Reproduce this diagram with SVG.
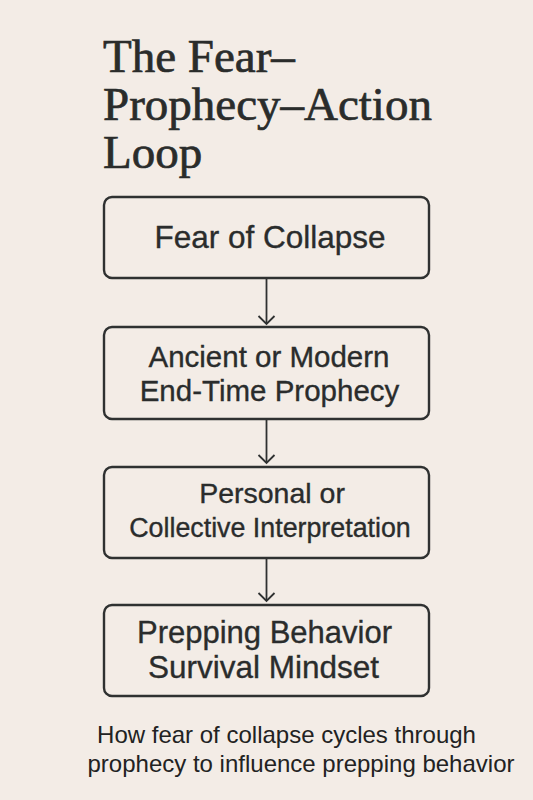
<svg xmlns="http://www.w3.org/2000/svg" width="533" height="800" viewBox="0 0 533 800">
  <defs>
    <style>
      .title { font-family: "Liberation Serif", "Times New Roman", serif; font-size: 47px; fill: #2a2c2b; stroke: #2a2c2b; stroke-width: 0.7; }
      .box { fill: #f3ece6; stroke: #2f3131; stroke-width: 2.4; }
      .lbl { font-family: "Liberation Sans", Arial, sans-serif; fill: #2a2c2c; stroke: #2a2c2c; stroke-width: 0.35; text-anchor: middle; }
      .cap { font-family: "Liberation Sans", Arial, sans-serif; font-size: 24px; fill: #222; text-anchor: middle; }
      .conn { stroke: #2f3131; stroke-width: 1.8; fill: none; }
    </style>
    <marker id="chev" markerWidth="12" markerHeight="20" refX="9" refY="9" orient="auto" markerUnits="userSpaceOnUse" viewBox="0 0 12 20">
      <path d="M1,1 L9,9 L1,17" fill="none" stroke="#2f3131" stroke-width="1.8"/>
    </marker>
  </defs>
  <rect width="533" height="800" fill="#f3ece6"/>

  <g id="title">
    <text class="title" x="103" y="72">The Fear–</text>
    <text class="title" x="103" y="120">Prophecy–Action</text>
    <text class="title" x="103" y="168">Loop</text>
  </g>

  <g id="connectors">
    <line class="conn" x1="266.5" y1="279" x2="266.5" y2="324" marker-end="url(#chev)"/>
    <line class="conn" x1="266.5" y1="420" x2="266.5" y2="463" marker-end="url(#chev)"/>
    <line class="conn" x1="266.5" y1="558" x2="266.5" y2="601" marker-end="url(#chev)"/>
  </g>

  <g id="node1">
    <rect class="box" x="104" y="197" width="325" height="81" rx="8"/>
    <text class="lbl" x="270" y="248" font-size="31.5">Fear of Collapse</text>
  </g>

  <g id="node2">
    <rect class="box" x="104" y="327" width="325" height="92" rx="8"/>
    <text class="lbl" x="269" y="367" font-size="29.5">Ancient or Modern</text>
    <text class="lbl" x="269.5" y="401" font-size="29.5">End-Time Prophecy</text>
  </g>

  <g id="node3">
    <rect class="box" x="104" y="467" width="325" height="91" rx="8"/>
    <text class="lbl" x="272" y="503" font-size="28.5">Personal or</text>
    <text class="lbl" x="270" y="537" font-size="26.8">Collective Interpretation</text>
  </g>

  <g id="node4">
    <rect class="box" x="104" y="605" width="325" height="91" rx="8"/>
    <text class="lbl" x="264.5" y="643" font-size="31">Prepping Behavior</text>
    <text class="lbl" x="263.5" y="678" font-size="31.5">Survival Mindset</text>
  </g>

  <g id="caption">
    <text class="cap" x="286.5" y="743">How fear of collapse cycles through</text>
    <text class="cap" x="301" y="772">prophecy to influence prepping behavior</text>
  </g>
</svg>
